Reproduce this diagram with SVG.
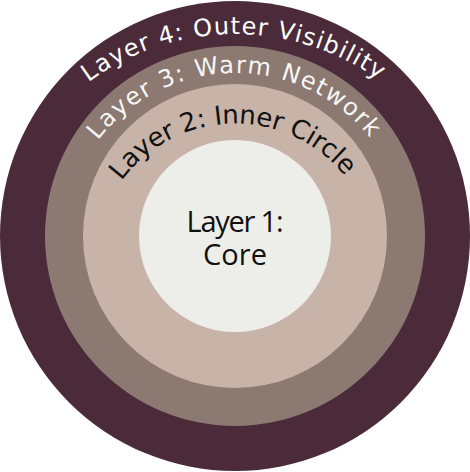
<svg xmlns="http://www.w3.org/2000/svg" xmlns:xlink="http://www.w3.org/1999/xlink" width="470" height="472" viewBox="0 0 470 472">
  <style>
    .arc { font-family: "DejaVu Sans", "Open Sans", sans-serif; }
    .core { font-family: "Open Sans", "Liberation Sans", sans-serif; }
    .light { fill: #ffffff; }
    .dark { fill: #111111; }
  </style>
  <defs>
    <path id="arc4" d="M 88.4 82.2 A 247 247 0 0 1 381.6 82.2" fill="none"/>
    <path id="arc3" d="M 97.9 140.5 A 173 173 0 0 1 372.1 140.5" fill="none"/>
    <path id="arc2" d="M 121.4 181 A 141 141 0 0 1 348.6 181" fill="none"/>
  </defs>
  <rect width="470" height="472" fill="#ffffff"/>
  <g id="layer4">
    <circle cx="235" cy="236" r="235" fill="#4b2b39"/>
  </g>
  <g id="layer3">
    <circle cx="235" cy="236" r="190" fill="#8c7a72"/>
  </g>
  <g id="layer2">
    <circle cx="235" cy="236" r="152" fill="#c8b3a9"/>
  </g>
  <g id="layer1">
    <circle cx="235" cy="236" r="96" fill="#edeee9"/>
  </g>
  <g id="labels">
    <text class="arc light" font-size="24"><textPath href="#arc4" xlink:href="#arc4" textLength="310" lengthAdjust="spacing">Layer 4: Outer Visibility</textPath></text>
    <text class="arc light" font-size="24" fill-opacity="0.95"><textPath href="#arc3" xlink:href="#arc3" textLength="313" lengthAdjust="spacing">Layer 3: Warm Network</textPath></text>
    <text class="arc dark" font-size="26"><textPath href="#arc2" xlink:href="#arc2" textLength="258" lengthAdjust="spacing">Layer 2: Inner Circle</textPath></text>
    <text class="core dark" font-size="29" x="235" y="231.5" text-anchor="middle" textLength="97" lengthAdjust="spacing">Layer 1:</text>
    <text class="core dark" font-size="29" x="235" y="265" text-anchor="middle">Core</text>
  </g>
</svg>
